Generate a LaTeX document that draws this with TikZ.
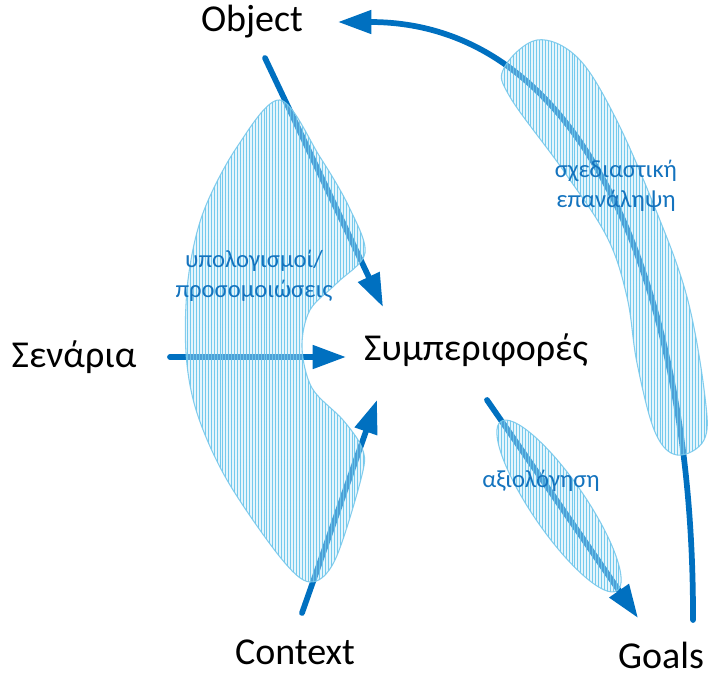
\documentclass[tikz,border=0pt]{standalone}
\usepackage{fontspec}
\setmainfont{Carlito}
\usetikzlibrary{arrows.meta,patterns.meta}

\definecolor{arrowblue}{RGB}{0,112,192}
\definecolor{labelblue}{RGB}{20,115,190}
\definecolor{hatchblue}{RGB}{105,198,236}
\definecolor{edgeblue}{RGB}{120,200,235}
\definecolor{tintblue}{RGB}{192,231,248}

\tikzset{
  flow/.style={draw=arrowblue, line width=4.3pt, line cap=round,
    -{Triangle[length=25pt,width=17pt]}},
  zone/.style={draw=edgeblue, line width=0.8pt, draw opacity=0.9,
    preaction={fill=tintblue, fill opacity=0.4},
    pattern={Lines[angle=90,distance=2.2pt,line width=0.7pt]},
    pattern color=hatchblue, fill opacity=0.45},
  term/.style={font=\fontsize{28.5}{32}\selectfont, text=black, inner sep=0pt},
  note/.style={font=\fontsize{18.5}{22.5}\selectfont, text=labelblue,
    align=center, inner sep=0pt}
}

\begin{document}
\begin{tikzpicture}[x=0.75pt, y=-0.75pt]
\useasboundingbox (0,0) rectangle (708,675);

% main terms
\node[term] (obj) at (252,22) {Object};
\node[term] (beh) at (476,350) {Συμπεριφορές};
\node[term] (scen) at (74,357) {Σενάρια};
\node[term] (ctx) at (295,652) {Context};
\node[term] (goal) at (661,655) {Goals};

% connector end points
\coordinate (objOut) at (265,58);
\coordinate (behInTop) at (383,307);
\coordinate (scenOut) at (170,357);
\coordinate (behInLeft) at (346,357);
\coordinate (ctxOut) at (302,613);
\coordinate (behInBot) at (377,400);
\coordinate (behOut) at (487,400);
\coordinate (goalIn) at (638,618);
\coordinate (goalOut) at (693,620);
\coordinate (objIn) at (338,22);

% arrows
\draw[flow] (objOut) -- (behInTop);
\draw[flow] (scenOut) -- (behInLeft);
\draw[flow] (ctxOut) -- (behInBot);
\draw[flow] (behOut) -- (goalIn);
\draw[flow] (goalOut) .. controls (694,300) and (590,22) .. (objIn);

% hatched zones
\path[zone] plot[smooth cycle, tension=0.55] coordinates {
  (280,100) (320,157) (349,207) (365,253) (337,283) (310,310)
  (302,347) (312,388) (343,420) (362,448) (362,475) (335,560)
  (310,582) (280,557) (227,480) (197,413) (186,353) (188,280)
  (203,213) (237,147)};
\path[zone] plot[smooth cycle, tension=0.6] coordinates {
  (537,40) (577,57) (613,113) (653,203) (687,297) (705,397)
  (704,440) (677,455) (655,432) (637,363) (627,297) (607,237)
  (563,170) (510,97) (504,68)};
\path[zone] (559,506) ellipse [x radius=77pt, y radius=20pt, rotate=-55.5];

% zone labels
\node[note] (calc) at (254,276) {υπολογισμοί/\\προσομοιώσεις};
\node[note] (iter) at (616,186) {σχεδιαστική\\επανάληψη};
\node[note] (eval) at (541,481) {αξιολόγηση};
\end{tikzpicture}
\end{document}
